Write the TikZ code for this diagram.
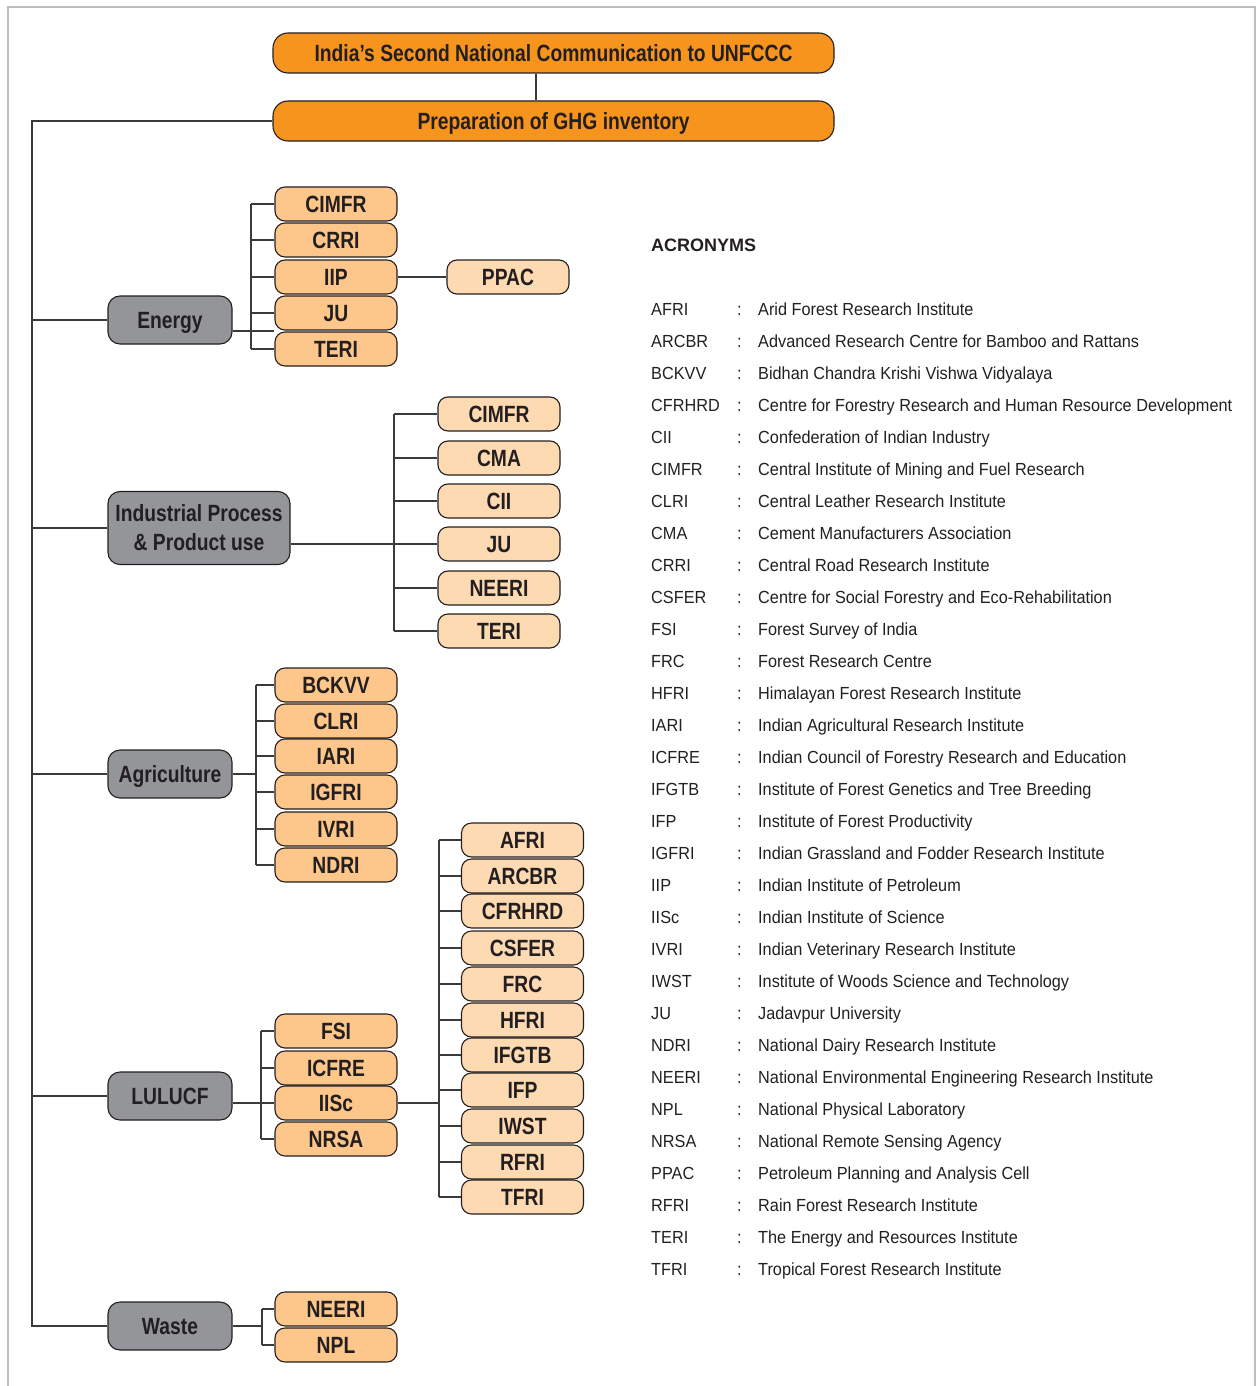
\documentclass[tikz,border=0pt]{standalone}
\usepackage{fontspec}
\setmainfont{Liberation Sans}
\newfontfamily\cond[FakeStretch=0.82]{Liberation Sans}
\newfontfamily\condlist[FakeStretch=0.93]{Liberation Sans}

\definecolor{textc}{HTML}{231F20}
\definecolor{linec}{HTML}{3A3A3A}
\definecolor{framec}{HTML}{BDBDBD}
\definecolor{titleorange}{HTML}{F7941E}
\definecolor{instorange}{HTML}{FDC68A}
\definecolor{instpale}{HTML}{FEDAB2}
\definecolor{sectorgray}{HTML}{939598}

\tikzset{
  boxfont/.style={font=\cond\bfseries\fontsize{23.5}{29}\selectfont, text=textc,
    text height=17pt, text depth=0pt},
  title/.style={boxfont, draw=textc, line width=1.1pt, fill=titleorange, rounded corners=15pt,
    minimum width=561pt, minimum height=40pt, inner sep=0pt},
  sector/.style={boxfont, draw=textc, line width=1.1pt, fill=sectorgray, rounded corners=12pt,
    minimum width=124pt, minimum height=48pt, inner sep=0pt},
  inst/.style={boxfont, draw=textc, line width=1.1pt, fill=instorange, rounded corners=10pt,
    minimum width=122pt, minimum height=34pt, inner sep=0pt},
  pale/.style={inst, fill=instpale},
  link/.style={draw=linec, line width=1.2pt},
  listtext/.style={anchor=base west, inner sep=0pt, text=textc,
    font=\condlist\fontsize{17.5}{20}\selectfont}
}

\begin{document}
\begin{tikzpicture}[x=1pt, y=-1pt]
\useasboundingbox (0,0) rectangle (1258,1386);
\draw[framec, line width=1.6pt] (8,1400) -- (8,7) -- (1255,7) -- (1255,1400);

% top of the tree
\node[title] (nc) at (553.5,53) {India’s Second National Communication to UNFCCC};
\node[title] (ghg) at (553.5,121) {Preparation of GHG inventory};
\coordinate (mid) at (536,0);
\draw[link] (nc.south -| mid) -- (ghg.north -| mid);

% sectors
\node[sector] (energy) at (170,320) {Energy};
\node[sector, minimum width=182pt, minimum height=73pt, align=center,
  text height=, text depth=] (ippu) at (199,528)
  {Industrial Process\\\& Product use};
\node[sector] (agri) at (170,774) {Agriculture};
\node[sector] (lulucf) at (170,1096) {LULUCF};
\node[sector] (waste) at (170,1326) {Waste};

\coordinate (trunk) at (32,0);
\draw[link] (ghg.west) -- (ghg.west -| trunk) -- (waste.west -| trunk) -- (waste.west);
\draw[link] (energy.west) -- (energy.west -| trunk);
\draw[link] (ippu.west) -- (ippu.west -| trunk);
\draw[link] (agri.west) -- (agri.west -| trunk);
\draw[link] (lulucf.west) -- (lulucf.west -| trunk);

% energy
\node[inst] (eCIMFR) at (336,204) {CIMFR};
\node[inst] (eCRRI) at (336,240) {CRRI};
\node[inst] (eIIP) at (336,277) {IIP};
\node[inst] (eJU) at (336,313) {JU};
\node[inst] (eTERI) at (336,349) {TERI};
\node[pale] (PPAC) at (508,277) {PPAC};
\coordinate (ebus) at (251,0);
\draw[link] (eCIMFR.west -| ebus) -- (eTERI.west -| ebus);
\foreach \n in {eCIMFR,eCRRI,eIIP,eJU,eTERI}
  \draw[link] (\n.west) -- (\n.west -| ebus);
\draw[link] ([yshift=-11pt]energy.east) -- ([yshift=-11pt]energy.east -| eTERI.west);
\draw[link] (eIIP) -- (PPAC);

% industrial process
\node[pale] (iCIMFR) at (499,414) {CIMFR};
\node[pale] (iCMA) at (499,458) {CMA};
\node[pale] (iCII) at (499,501) {CII};
\node[pale] (iJU) at (499,544) {JU};
\node[pale] (iNEERI) at (499,588) {NEERI};
\node[pale] (iTERI) at (499,631) {TERI};
\coordinate (ibus) at (394,0);
\draw[link] (iCIMFR.west -| ibus) -- (iTERI.west -| ibus);
\foreach \n in {iCIMFR,iCMA,iCII,iJU,iNEERI,iTERI}
  \draw[link] (\n.west) -- (\n.west -| ibus);
\draw[link] (ippu.east |- iJU) -- (iJU.west);

% agriculture
\node[inst] (aBCKVV) at (336,685) {BCKVV};
\node[inst] (aCLRI) at (336,721) {CLRI};
\node[inst] (aIARI) at (336,756) {IARI};
\node[inst] (aIGFRI) at (336,792) {IGFRI};
\node[inst] (aIVRI) at (336,829) {IVRI};
\node[inst] (aNDRI) at (336,865) {NDRI};
\coordinate (abus) at (256,0);
\draw[link] (aBCKVV.west -| abus) -- (aNDRI.west -| abus);
\foreach \n in {aBCKVV,aCLRI,aIARI,aIGFRI,aIVRI,aNDRI}
  \draw[link] (\n.west) -- (\n.west -| abus);
\draw[link] (agri.east) -- (agri.east -| abus);

% lulucf
\node[inst] (lFSI) at (336,1031) {FSI};
\node[inst] (lICFRE) at (336,1068) {ICFRE};
\node[inst] (lIISc) at (336,1103) {IISc};
\node[inst] (lNRSA) at (336,1139) {NRSA};
\coordinate (lbus) at (261,0);
\draw[link] (lFSI.west -| lbus) -- (lNRSA.west -| lbus);
\foreach \n in {lFSI,lICFRE,lIISc,lNRSA}
  \draw[link] (\n.west) -- (\n.west -| lbus);
\draw[link] (lulucf.east |- lIISc) -- (lIISc.west);

\node[pale] (sAFRI) at (522.5,840) {AFRI};
\node[pale] (sARCBR) at (522.5,876) {ARCBR};
\node[pale] (sCFRHRD) at (522.5,911) {CFRHRD};
\node[pale] (sCSFER) at (522.5,948) {CSFER};
\node[pale] (sFRC) at (522.5,984) {FRC};
\node[pale] (sHFRI) at (522.5,1020) {HFRI};
\node[pale] (sIFGTB) at (522.5,1055) {IFGTB};
\node[pale] (sIFP) at (522.5,1090) {IFP};
\node[pale] (sIWST) at (522.5,1126) {IWST};
\node[pale] (sRFRI) at (522.5,1162) {RFRI};
\node[pale] (sTFRI) at (522.5,1197) {TFRI};
\coordinate (sbus) at (439,0);
\draw[link] (sAFRI.west -| sbus) -- (sTFRI.west -| sbus);
\foreach \n in {sAFRI,sARCBR,sCFRHRD,sCSFER,sFRC,sHFRI,sIFGTB,sIFP,sIWST,sRFRI,sTFRI}
  \draw[link] (\n.west) -- (\n.west -| sbus);
\draw[link] (lIISc.east) -- (lIISc.east -| sbus);

% waste
\node[inst] (wNEERI) at (336,1309) {NEERI};
\node[inst] (wNPL) at (336,1345) {NPL};
\coordinate (wbus) at (262,0);
\draw[link] (wNEERI.west -| wbus) -- (wNPL.west -| wbus);
\draw[link] (wNEERI.west) -- (wNEERI.west -| wbus);
\draw[link] (wNPL.west) -- (wNPL.west -| wbus);
\draw[link] (waste.east) -- (waste.east -| wbus);

% acronyms
\node[anchor=base west, inner sep=0pt, text=textc, font=\bfseries\fontsize{18}{20}\selectfont]
  (acr) at (651,251) {ACRONYMS};
\foreach \ab/\full [count=\i from 0] in {
  AFRI/Arid Forest Research Institute,
  ARCBR/Advanced Research Centre for Bamboo and Rattans,
  BCKVV/Bidhan Chandra Krishi Vishwa Vidyalaya,
  CFRHRD/Centre for Forestry Research and Human Resource Development,
  CII/Confederation of Indian Industry,
  CIMFR/Central Institute of Mining and Fuel Research,
  CLRI/Central Leather Research Institute,
  CMA/Cement Manufacturers Association,
  CRRI/Central Road Research Institute,
  CSFER/Centre for Social Forestry and Eco-Rehabilitation,
  FSI/Forest Survey of India,
  FRC/Forest Research Centre,
  HFRI/Himalayan Forest Research Institute,
  IARI/Indian Agricultural Research Institute,
  ICFRE/Indian Council of Forestry Research and Education,
  IFGTB/Institute of Forest Genetics and Tree Breeding,
  IFP/Institute of Forest Productivity,
  IGFRI/Indian Grassland and Fodder Research Institute,
  IIP/Indian Institute of Petroleum,
  IISc/Indian Institute of Science,
  IVRI/Indian Veterinary Research Institute,
  IWST/Institute of Woods Science and Technology,
  JU/Jadavpur University,
  NDRI/National Dairy Research Institute,
  NEERI/National Environmental Engineering Research Institute,
  NPL/National Physical Laboratory,
  NRSA/National Remote Sensing Agency,
  PPAC/Petroleum Planning and Analysis Cell,
  RFRI/Rain Forest Research Institute,
  TERI/The Energy and Resources Institute,
  TFRI/Tropical Forest Research Institute}
{
  \node[listtext] (ab\i) at (651,{315+32.03*\i}) {\ab};
  \node[listtext] (co\i) at (737,{315+32.03*\i}) {:};
  \node[listtext] (fu\i) at (758,{315+32.03*\i}) {\full};
}
\end{tikzpicture}
\end{document}
